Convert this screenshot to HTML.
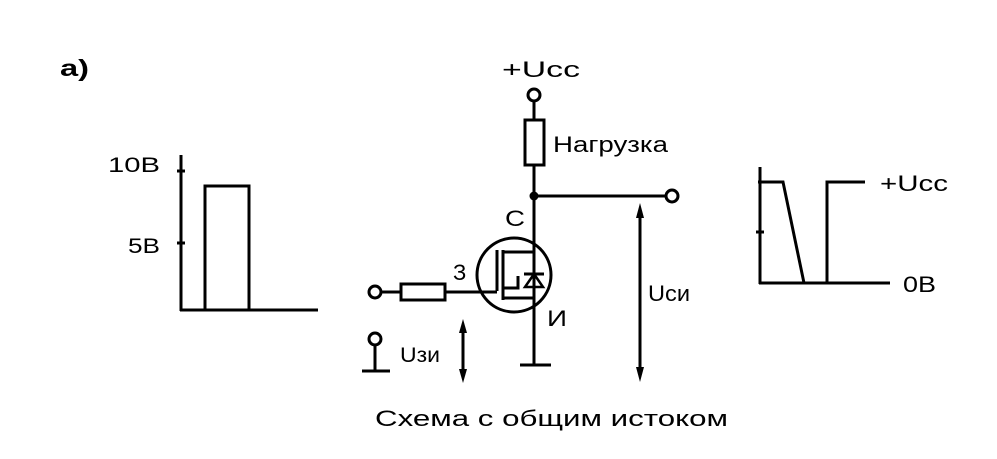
<!DOCTYPE html>
<html><head><meta charset="utf-8"><style>
html,body{margin:0;padding:0;background:#fff}
svg{display:block}
text{font-family:"Liberation Sans","DejaVu Sans",sans-serif;fill:#000}
</style></head><body>
<svg width="997" height="459" viewBox="0 0 997 459" xmlns="http://www.w3.org/2000/svg">
<g stroke="#000" stroke-width="3" fill="none">
<line x1="181" y1="155" x2="181" y2="311"/>
<line x1="180" y1="310" x2="318" y2="310"/>
<polyline points="205,310 205,186 249,186 249,310"/>
<line x1="177" y1="171" x2="185" y2="171"/>
<line x1="177" y1="243" x2="185" y2="243"/>
<line x1="760" y1="167" x2="760" y2="284"/>
<line x1="759" y1="283" x2="890" y2="283"/>
<polyline points="758,182 783,182 804,283"/>
<polyline points="827,283 827,182 865,182"/>
<line x1="756" y1="232" x2="764" y2="232"/>
<circle cx="534" cy="95" r="6"/>
<line x1="534" y1="101" x2="534" y2="120"/>
<rect x="525" y="120" width="19" height="45"/>
<line x1="534" y1="165" x2="534" y2="365"/>
<line x1="534" y1="196" x2="666" y2="196"/>
<circle cx="672" cy="196" r="6"/>
<line x1="520" y1="365" x2="551" y2="365"/>
<circle cx="514" cy="275" r="37"/>
<line x1="497" y1="250" x2="497" y2="291"/>
<line x1="503" y1="250" x2="503" y2="300"/>
<line x1="503" y1="252" x2="534" y2="252"/>
<line x1="503" y1="298" x2="534" y2="298"/>
<polyline points="503,288 518,288 518,276"/>
<line x1="524" y1="274" x2="544" y2="274"/>
<polygon points="534,274 525,287 543,287" stroke-width="2.5"/>
<circle cx="375" cy="292" r="6"/>
<line x1="381" y1="292" x2="401" y2="292"/>
<rect x="401" y="284" width="44" height="16"/>
<line x1="445" y1="292" x2="497" y2="292"/>
<circle cx="375" cy="339" r="6"/>
<line x1="375" y1="345" x2="375" y2="371"/>
<line x1="362" y1="371" x2="390" y2="371"/>
<line x1="463" y1="326" x2="463" y2="376"/>
<line x1="640" y1="210" x2="640" y2="375"/>
</g>
<g fill="#000">
<polygon points="463,319 459,333 467,333"/>
<polygon points="463,383 459,369 467,369"/>
<polygon points="640,203 636,218 644,218"/>
<polygon points="640,382 636,367 644,367"/>
<circle cx="534" cy="196" r="4.5"/>
</g>
<text x="60" y="76" font-size="23" font-weight="bold" textLength="29" lengthAdjust="spacingAndGlyphs">a)</text>
<text x="108" y="172" font-size="21" textLength="52" lengthAdjust="spacingAndGlyphs">10B</text>
<text x="128" y="253" font-size="21" textLength="32" lengthAdjust="spacingAndGlyphs">5B</text>
<text x="502" y="77" font-size="22" textLength="78" lengthAdjust="spacingAndGlyphs">+Ucc</text>
<text x="553" y="152" font-size="22" textLength="115" lengthAdjust="spacingAndGlyphs">Нагрузка</text>
<text x="505" y="226" font-size="22" textLength="20" lengthAdjust="spacingAndGlyphs">C</text>
<text x="453" y="280" font-size="22">З</text>
<text x="547" y="326" font-size="22" textLength="20" lengthAdjust="spacingAndGlyphs">И</text>
<text x="400" y="362" font-size="21" textLength="40" lengthAdjust="spacingAndGlyphs">Uзи</text>
<text x="648" y="301" font-size="22" textLength="42" lengthAdjust="spacingAndGlyphs">Ucи</text>
<text x="880" y="191" font-size="22" textLength="68" lengthAdjust="spacingAndGlyphs">+Ucc</text>
<text x="903" y="292" font-size="22" textLength="33" lengthAdjust="spacingAndGlyphs">0B</text>
<text x="375" y="426" font-size="22" textLength="353" lengthAdjust="spacingAndGlyphs">Схема  с  общим  истоком</text>
</svg>
</body></html>
